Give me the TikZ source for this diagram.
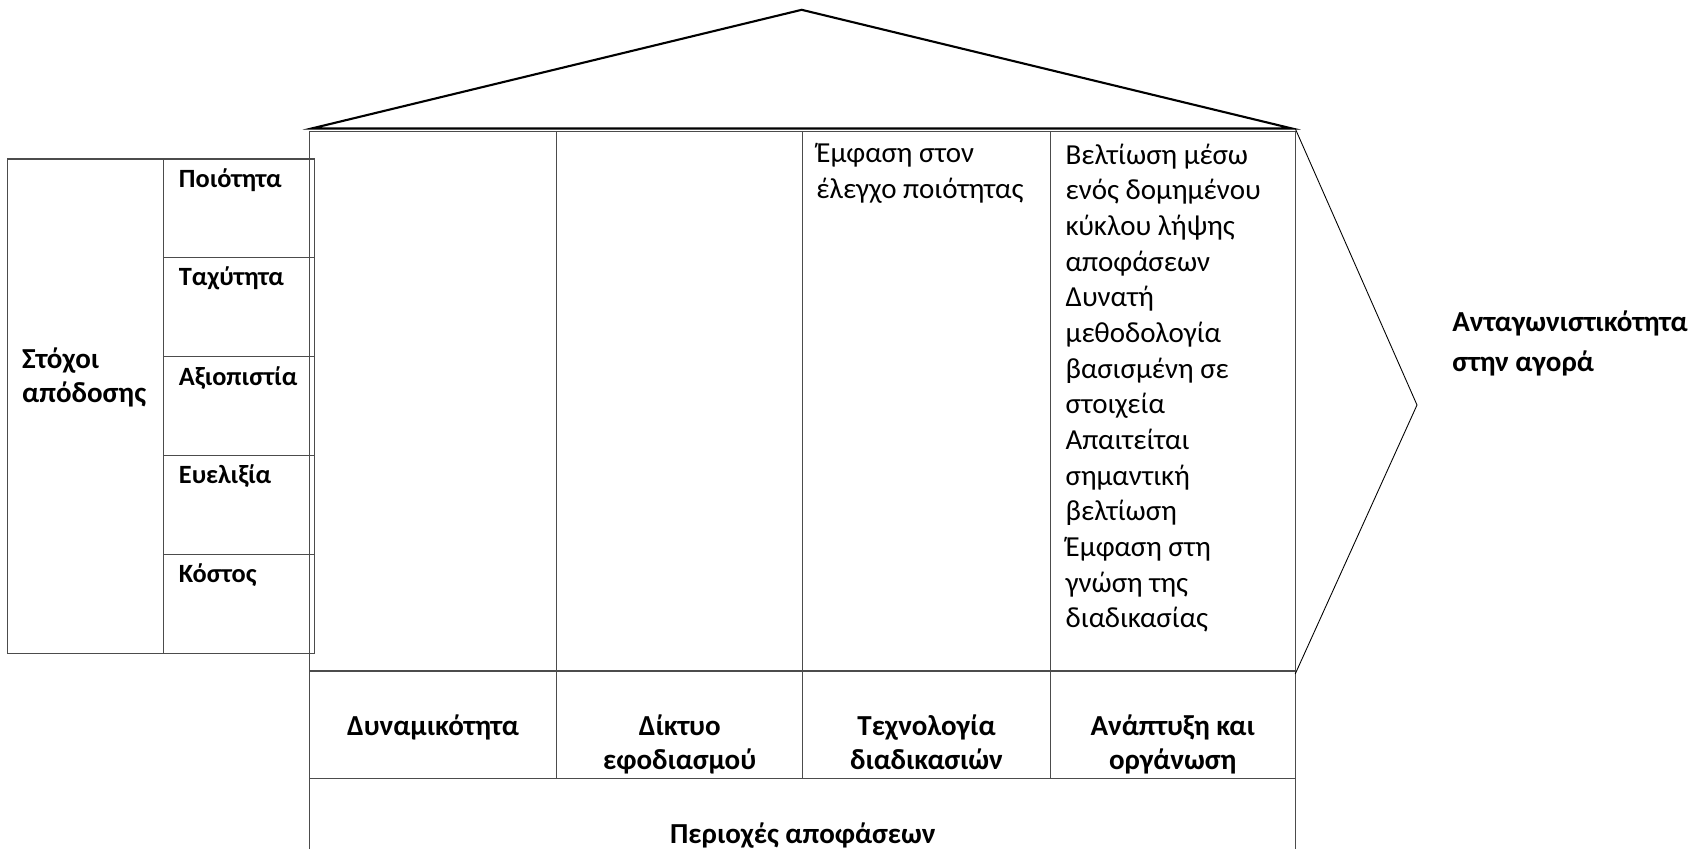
\documentclass[tikz,border=0pt]{standalone}
\usepackage{fontspec}
\setmainfont{Carlito}
\usetikzlibrary{positioning}
\usetikzlibrary{calc}

\begin{document}
\begin{tikzpicture}[x=0.02cm, y=-0.02cm, font=\fontsize{16.5}{20.3}\selectfont, line join=miter]
    \tikzstyle{grid}=[draw=black!70, line width=0.6pt]
    \tikzstyle{roof}=[draw=black, line width=1.2pt]
    \tikzstyle{goal}=[anchor=west, inner sep=0pt, align=left, font=\fontsize{16.5}{19.5}\selectfont\bfseries]
    \tikzstyle{crit}=[anchor=west, inner sep=0pt, font=\fontsize{15}{18}\selectfont\bfseries]
    \tikzstyle{area}=[anchor=north, inner sep=0pt, align=center, font=\fontsize{16.5}{19.8}\selectfont\bfseries]
    \tikzstyle{note}=[anchor=north west, inner sep=0pt, align=left]

    \useasboundingbox (0,0) rectangle (1708,849);

    % roof
    \coordinate (apex) at (801.7,9.8);
    \coordinate (eaveL) at (311.5,128.5);
    \coordinate (eaveR) at (1292,128.5);
    \draw[roof] (eaveL) -- (apex) -- (eaveR) -- cycle;

    % house body, runs off the bottom edge
    \draw[grid] (309.4,849) -- (309.4,131.8) -- (1295.2,131.8) -- (1295.2,849);
    \draw[grid] (309.4,671) -- (1295.2,671);
    \draw[grid] (309.4,778.9) -- (1295.2,778.9);
    \foreach \x in {556.6,802.8,1050.1}
        \draw[grid] (\x,131.8) -- (\x,778.9);

    % arrow head to the right
    \coordinate (tip) at (1417,405);
    \draw[line width=0.5pt] (1295.2,128.5) -- (tip) -- (1295.2,674);

    % goals box
    \draw[grid] (7.6,159) rectangle (314.8,653.6);
    \draw[grid] (163.4,159) -- (163.4,653.6);
    \foreach \i in {1,...,4}
        \draw[grid] (163.4,{159+98.9*\i}) -- (314.8,{159+98.9*\i});

    \node[goal] (goals) at (21.8,377.4) {Στόχοι\\απόδοσης};
    \foreach \t [count=\i from 0] in {Ποιότητα,Ταχύτητα,Αξιοπιστία,Ευελιξία,Κόστος}
        \node[crit] (goal\i) at (178.6,{179.8+98.9*\i}) {\t};

    % contents of the columns
    \node[note] (tech) at (816,143.3) {Έμφαση στον\\έλεγχο ποιότητας};
    \node[note] (org) at (1065.3,143.3) {Βελτίωση μέσω\\ενός δομημένου\\κύκλου λήψης\\αποφάσεων\\Δυνατή\\μεθοδολογία\\βασισμένη σε\\στοιχεία\\Απαιτείται\\σημαντική\\βελτίωση\\Έμφαση στη\\γνώση της\\διαδικασίας};

    % decision areas
    \node[area] (cap) at (433,714) {Δυναμικότητα};
    \node[area] (net) at (679.7,714) {Δίκτυο\\εφοδιασμού};
    \node[area] (proc) at (926.5,714) {Τεχνολογία\\διαδικασιών};
    \node[area] (dev) at (1172.7,714) {Ανάπτυξη και\\οργάνωση};
    \node[area, anchor=center] (areas) at (802.8,835.5) {Περιοχές αποφάσεων};

    \node[goal, font=\fontsize{16.5}{22.7}\selectfont\bfseries] (market) at (1452,343.7) {Ανταγωνιστικότητα\\στην αγορά};
\end{tikzpicture}
\end{document}
